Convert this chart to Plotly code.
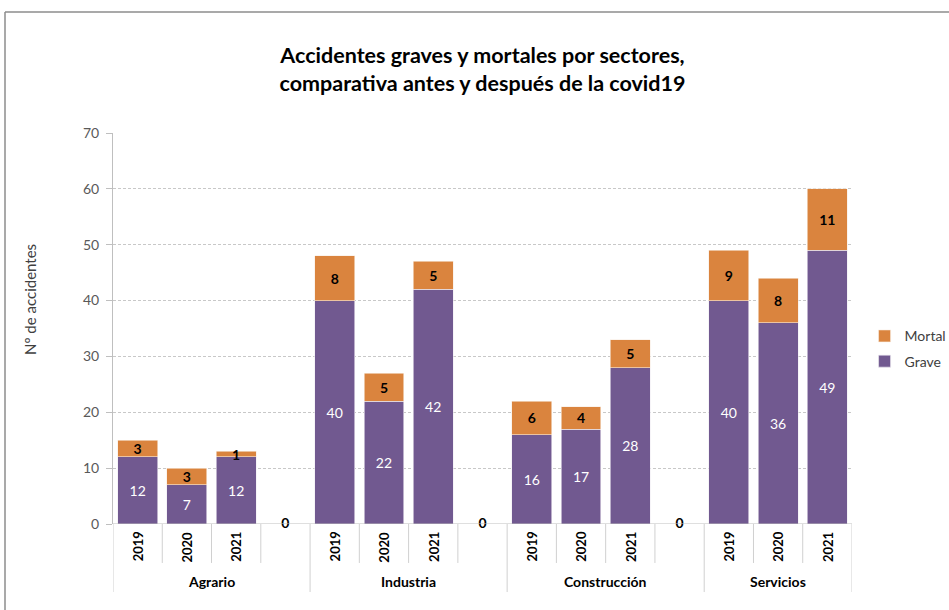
import plotly.graph_objects as go

sectors = ["Agrario", "Industria", "Construcción", "Servicios"]
years = ["2019", "2020", "2021"]
grave = [12, 7, 12, 40, 22, 42, 16, 17, 28, 40, 36, 49]
mortal = [3, 3, 1, 8, 5, 5, 6, 4, 5, 9, 8, 11]
gap_values = [0, 0, 0]

PURPLE = "#715990"
ORANGE = "#DA843E"
FONT = "Lato"

# slot positions: each sector has 3 years + 1 empty slot
xs = [4 * si + yi for si in range(len(sectors)) for yi in range(len(years))]
gap_x = [4 * si + 3 for si in range(len(sectors) - 1)]
n_slots = 4 * len(sectors) - 1

fig = go.Figure()
fig.add_trace(go.Bar(
    x=xs, y=grave, name="Grave", legendgroup="g", legendrank=2,
    marker=dict(color=PURPLE, line=dict(color="#F0ECF4", width=0.6)),
    width=0.81, text=[str(v) for v in grave], textposition="inside", insidetextanchor="middle",
    textfont=dict(color="white", size=14, family=FONT), textangle=0,
))
fig.add_trace(go.Bar(
    x=xs, y=mortal, name="Mortal", legendgroup="m", legendrank=1,
    marker=dict(color=ORANGE, line=dict(color="#F8ECE2", width=0.6)),
    width=0.81, text=["<b>%d</b>" % v for v in mortal], textposition="inside", insidetextanchor="middle",
    textfont=dict(color="black", size=14, family=FONT), textangle=0,
))
fig.add_trace(go.Scatter(
    x=gap_x, y=gap_values, mode="text", text=["<b>%d</b>" % v for v in gap_values],
    textposition="middle center", textfont=dict(color="black", size=14, family=FONT),
    showlegend=False, hoverinfo="skip", cliponaxis=False,
))

annotations = []
shapes = []
# year labels
for x in xs:
    annotations.append(dict(x=x, y=-0.058, xref="x", yref="paper", text="<b>%s</b>" % years[x % 4],
                            textangle=-90, showarrow=False, font=dict(size=13, family=FONT, color="black"),
                            yanchor="middle", xanchor="center"))
# sector labels
for si, s in enumerate(sectors):
    end = 4 * si + 3.5 if si < len(sectors) - 1 else 4 * si + 2.5
    center = (4 * si - 0.5 + end) / 2
    annotations.append(dict(x=center, y=-0.146, xref="x", yref="paper", text="<b>%s</b>" % s,
                            showarrow=False, font=dict(size=14, family=FONT, color="black"),
                            yanchor="middle", xanchor="center"))
# separators
for k in range(n_slots + 1):
    xb = k - 0.5
    is_group = (k % 4 == 0) or k == n_slots
    shapes.append(dict(type="line", xref="x", yref="paper", x0=xb, x1=xb, y0=0,
                       y1=-0.174 if is_group else -0.0997,
                       line=dict(color="#D0D0D0", width=1)))
# outer border
shapes.append(dict(type="line", xref="paper", yref="paper", x0=(5 - 113) / 739, x1=(5 - 113) / 739,
                   y0=(524 - 12) / 391, y1=-0.3, line=dict(color="#8C8C8C", width=1.5)))
shapes.append(dict(type="line", xref="paper", yref="paper", x0=(5 - 113) / 739, x1=1.2,
                   y0=(524 - 12) / 391, y1=(524 - 12) / 391, line=dict(color="#8C8C8C", width=1.5)))

annotations.append(dict(x=(30 - 113) / 739, y=0.573, xref="paper", yref="paper", text="Nº de accidentes",
                        textangle=-90, showarrow=False, font=dict(size=15, family=FONT, color="#404040"),
                        xanchor="center", yanchor="middle"))

fig.update_layout(
    width=949, height=610,
    margin=dict(l=113, r=97, t=133, b=86, autoexpand=False),
    barmode="stack",
    paper_bgcolor="white", plot_bgcolor="white",
    font=dict(family=FONT, size=14, color="#404040"),
    title=dict(text="<b>Accidentes graves y mortales por sectores,<br>comparativa antes y después de la covid19</b>",
               x=0.5, xref="paper", xanchor="center", y=1 - 63 / 610, yref="container", yanchor="middle",
               font=dict(size=21.5, family=FONT, color="black")),
    xaxis=dict(range=[-0.5, n_slots - 0.5], showticklabels=False, ticks="", showgrid=False,
               zeroline=False, showline=False, fixedrange=True),
    yaxis=dict(range=[0, 70], dtick=10, showgrid=True, gridcolor="#C8C8C8", griddash="3px,2px",
               gridwidth=1, zeroline=False, showline=True, linecolor="#BFBFBF", linewidth=1,
               ticks="outside", ticklen=6, tickcolor="#BFBFBF", ticklabelstandoff=4,
               tickfont=dict(size=14, family=FONT, color="#595959")),
    legend=dict(x=1.017, y=0.448, xanchor="left", yanchor="middle", traceorder="grouped",
                font=dict(size=14, family=FONT, color="#404040"), itemwidth=30, tracegroupgap=4),
    uniformtext=dict(minsize=14, mode="show"),
    annotations=annotations, shapes=shapes,
)
fig.add_shape(type="line", xref="paper", yref="y", x0=0, x1=1, y0=0, y1=0, line=dict(color="#BFBFBF", width=1))
fig.write_html("out.html", config={"displayModeBar": False},
               post_script="document.body.style.margin='0px';document.body.style.overflow='hidden';")
